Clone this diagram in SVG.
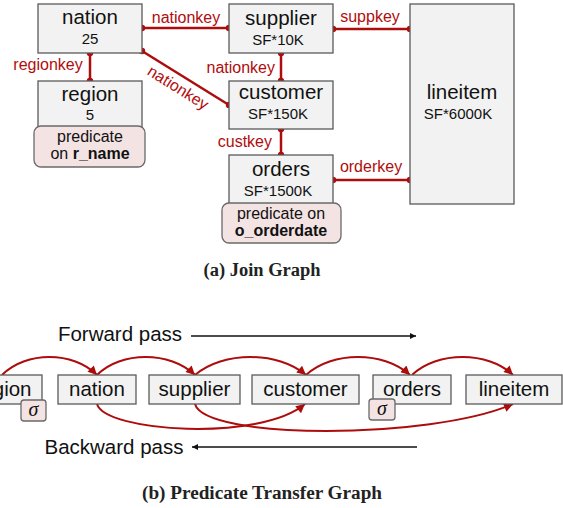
<svg xmlns="http://www.w3.org/2000/svg" width="563" height="508" viewBox="0 0 563 508">
<style>
.box{fill:#f2f2f2;stroke:#5a5a5a;stroke-width:1.3}
.pred{fill:#f3e3e3;stroke:#6a6a6a;stroke-width:1.3}
.t{font-family:"Liberation Sans",Arial,sans-serif;fill:#111;text-anchor:middle}
.big{font-size:20.5px}
.sm{font-size:15px}
.pt{font-size:16px}
.key{font-family:"Liberation Sans",Arial,sans-serif;font-size:16px;fill:#b00d0d}
.edge{stroke:#ad0c0c;stroke-width:2.5;fill:none}
.dot{fill:#ad0c0c}
.arc{stroke:#ad0c0c;stroke-width:2;fill:none;marker-end:url(#ah)}
.cap{font-family:"Liberation Serif","Times New Roman",serif;font-weight:bold;font-size:18px;fill:#222;text-anchor:middle}
.sig{font-family:"Liberation Serif","Times New Roman",serif;font-style:italic;font-size:20px;fill:#111;text-anchor:middle}
</style>
<defs>
<marker id="ah" viewBox="0 0 10 10" refX="10" refY="5" markerWidth="11" markerHeight="9" orient="auto" markerUnits="userSpaceOnUse">
<path d="M0,0 L10,5 L0,10 z" fill="#ad0c0c"/>
</marker>
<marker id="bh" viewBox="0 0 10 10" refX="10" refY="5" markerWidth="8" markerHeight="6" orient="auto" markerUnits="userSpaceOnUse">
<path d="M0,0 L10,5 L0,10 z" fill="#111"/>
</marker>
</defs>

<!-- (a) Join Graph -->
<g id="connectors-a">
<line class="edge" x1="142" y1="28" x2="229" y2="28"/>
<circle class="dot" cx="142" cy="28" r="3.2"/><circle class="dot" cx="229" cy="28" r="3.2"/>
<text class="key" x="186" y="23" text-anchor="middle">nationkey</text>

<line class="edge" x1="90" y1="53" x2="90" y2="81"/>
<circle class="dot" cx="90" cy="53" r="3.2"/><circle class="dot" cx="90" cy="81" r="3.2"/>
<text class="key" x="48" y="70" text-anchor="middle">regionkey</text>

<line class="edge" x1="142" y1="51" x2="229" y2="105"/>
<circle class="dot" cx="142" cy="51" r="3.2"/><circle class="dot" cx="229" cy="105" r="3.2"/>
<text class="key" transform="translate(178,88) rotate(32)" x="0" y="5" text-anchor="middle">nationkey</text>

<line class="edge" x1="281" y1="53" x2="281" y2="81"/>
<circle class="dot" cx="281" cy="53" r="3.2"/><circle class="dot" cx="281" cy="81" r="3.2"/>
<text class="key" x="275" y="73" text-anchor="end">nationkey</text>

<line class="edge" x1="281" y1="129" x2="281" y2="155"/>
<circle class="dot" cx="281" cy="129" r="3.2"/><circle class="dot" cx="281" cy="155" r="3.2"/>
<text class="key" x="272" y="147" text-anchor="end">custkey</text>

<line class="edge" x1="333" y1="29" x2="410" y2="29"/>
<circle class="dot" cx="333" cy="29" r="3.2"/><circle class="dot" cx="410" cy="29" r="3.2"/>
<text class="key" x="370" y="22" text-anchor="middle">suppkey</text>

<line class="edge" x1="333" y1="180" x2="410" y2="180"/>
<circle class="dot" cx="333" cy="180" r="3.2"/><circle class="dot" cx="410" cy="180" r="3.2"/>
<text class="key" x="371" y="172" text-anchor="middle">orderkey</text>
</g>

<g id="a-nation">
<rect class="box" x="38" y="4" width="104" height="49"/>
<text class="t big" x="90" y="24">nation</text>
<text class="t sm" x="90" y="44">25</text>
</g>
<g id="a-region">
<rect class="box" x="38" y="81" width="104" height="50"/>
<text class="t big" x="90" y="101">region</text>
<text class="t sm" x="90" y="120">5</text>
</g>
<g id="a-region-pred">
<rect class="pred" x="34" y="126" width="111" height="41" rx="7"/>
<text class="t pt" x="90" y="142">predicate</text>
<text class="t pt" x="90" y="159">on <tspan font-weight="bold">r_name</tspan></text>
</g>
<g id="a-supplier">
<rect class="box" x="229" y="4" width="104" height="49"/>
<text class="t big" x="281" y="25">supplier</text>
<text class="t sm" x="278" y="45">SF*10K</text>
</g>
<g id="a-customer">
<rect class="box" x="229" y="81" width="104" height="48"/>
<text class="t big" x="281" y="99">customer</text>
<text class="t sm" x="278" y="119">SF*150K</text>
</g>
<g id="a-orders">
<rect class="box" x="229" y="155" width="104" height="52"/>
<text class="t big" x="281" y="176">orders</text>
<text class="t sm" x="278" y="196">SF*1500K</text>
</g>
<g id="a-orders-pred">
<rect class="pred" x="222" y="203" width="119" height="40" rx="7"/>
<text class="t pt" x="281" y="219">predicate on</text>
<text class="t pt" x="281" y="236" font-weight="bold">o_orderdate</text>
</g>
<g id="a-lineitem">
<rect class="box" x="410" y="4" width="104" height="200"/>
<text class="t big" x="462" y="99">lineitem</text>
<text class="t sm" x="458" y="119">SF*6000K</text>
</g>
<text class="cap" x="262" y="276" textLength="117" lengthAdjust="spacingAndGlyphs">(a) Join Graph</text>

<!-- (b) Predicate Transfer Graph -->
<g id="passes">
<text class="t big" x="120" y="341">Forward pass</text>
<line x1="191" y1="336" x2="416" y2="336" stroke="#111" stroke-width="1.5" marker-end="url(#bh)"/>
<text class="t big" x="114" y="454">Backward pass</text>
<line x1="417" y1="447" x2="192" y2="447" stroke="#111" stroke-width="1.5" marker-end="url(#bh)"/>
</g>

<g id="connectors-b">
<path class="arc" d="M2,375 C26,351 73,351 97,375"/>
<path class="arc" d="M97,375 C121,351 170,351 195,375"/>
<path class="arc" d="M195,375 C223,351 278,351 306,375"/>
<path class="arc" d="M306,375 C332,351 384,351 410,375"/>
<path class="arc" d="M412,375 C437,351 488,351 513,375"/>
<path class="arc" d="M97,404 C105,432 260,442 305,404"/>
<path class="arc" d="M195,404 C205,440 430,440 513,404"/>
</g>

<g id="b-region">
<rect class="box" x="-36" y="375" width="78" height="29"/>
<text class="t big" x="3" y="396">region</text>
</g>
<g id="b-region-sigma">
<rect class="pred" x="21" y="400" width="25" height="21" rx="3"/>
<text class="sig" x="33.5" y="416">σ</text>
</g>
<g id="b-nation">
<rect class="box" x="58" y="375" width="78" height="29"/>
<text class="t big" x="97" y="396">nation</text>
</g>
<g id="b-supplier">
<rect class="box" x="149" y="375" width="91" height="29"/>
<text class="t big" x="194.5" y="396">supplier</text>
</g>
<g id="b-customer">
<rect class="box" x="252" y="375" width="107" height="29"/>
<text class="t big" x="305.5" y="396">customer</text>
</g>
<g id="b-orders">
<rect class="box" x="373" y="375" width="78" height="29"/>
<text class="t big" x="412" y="396">orders</text>
</g>
<g id="b-orders-sigma">
<rect class="pred" x="369" y="399" width="26" height="21" rx="3"/>
<text class="sig" x="382" y="415">σ</text>
</g>
<g id="b-lineitem">
<rect class="box" x="466" y="375" width="96" height="29"/>
<text class="t big" x="514" y="396">lineitem</text>
</g>
<text class="cap" x="262" y="499" textLength="240" lengthAdjust="spacingAndGlyphs">(b) Predicate Transfer Graph</text>
</svg>
